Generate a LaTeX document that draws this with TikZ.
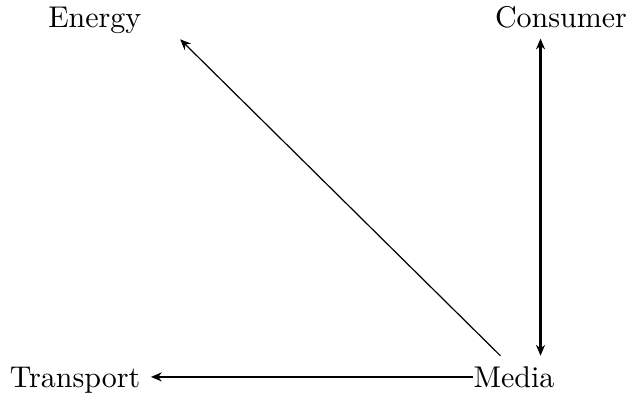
\documentclass[tikz,border=0pt]{standalone}
\usetikzlibrary{arrows.meta,positioning}

\begin{document}
\begin{tikzpicture}[>={Stealth[length=3.6pt,width=3pt]},
  sector/.style={anchor=base, inner sep=3.33pt}]
\useasboundingbox (0,0) rectangle (7.46,4.62);
\node[sector] (energy)    at (1.11,4.30) {Energy};
\node[sector] (consumer)  at (6.57,4.30) {Consumer};
\node[sector] (transport) at (0.88,0.086) {Transport};
\node[sector] (media)     at (6.02,0.086) {Media};
\coordinate (vline) at (6.33,0);
\coordinate (etip) at (2.11,4.16);
\coordinate (dstart) at ([xshift=-0.16cm]media.north);
\draw[->] (dstart) -- (etip);
\draw[<->, thick] (media.north -| vline) -- (consumer.south -| vline);
\draw[->, thick] ([xshift=3.33pt]media.west) -- (media.west -| transport.east);
\end{tikzpicture}
\end{document}
